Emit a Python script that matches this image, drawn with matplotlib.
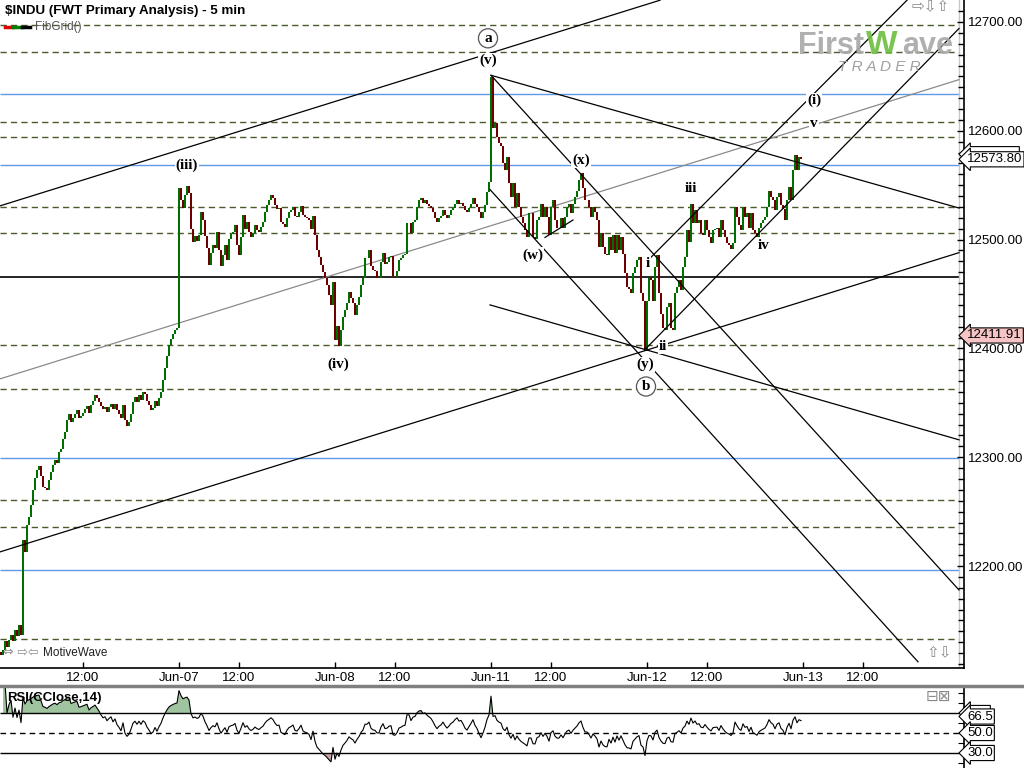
import numpy as np
import pandas as pd
import matplotlib
matplotlib.use("Agg")
import matplotlib.pyplot as plt
from matplotlib.transforms import blended_transform_factory
from matplotlib.lines import Line2D

plt.rcParams['font.family'] = ['Liberation Sans', 'DejaVu Sans']

# ---------------- data: 5 min closes, one list per session ----------------
first_open = 12121
jun05 = [12118, 12123, 12131, 12126, 12132, 12137, 12131, 12141, 12136, 12146, 12137]
jun06 = [12224, 12213, 12238, 12245, 12256, 12270, 12281, 12288, 12292, 12283,
         12273, 12272, 12270, 12279, 12286, 12293, 12297, 12295, 12305, 12308,
         12317, 12323, 12334, 12340, 12332, 12336, 12340, 12343, 12336, 12338,
         12341, 12344, 12347, 12341, 12348, 12352, 12357, 12354, 12351, 12347,
         12344, 12346, 12342, 12346, 12349, 12344, 12349, 12343, 12340, 12336,
         12348, 12334, 12329, 12332, 12340, 12351, 12355, 12351, 12357, 12353,
         12360, 12358, 12352, 12348, 12343, 12345, 12352, 12347, 12354, 12360,
         12371, 12382, 12393, 12403, 12409, 12413, 12417, 12419]
jun07 = [12547, 12536, 12529, 12541, 12549, 12543, 12510, 12498, 12503, 12499,
         12504, 12525, 12518, 12503, 12492, 12477, 12488, 12495, 12492, 12507,
         12490, 12476, 12486, 12495, 12481, 12501, 12505, 12507, 12513, 12495,
         12486, 12502, 12523, 12510, 12516, 12507, 12502, 12506, 12513, 12509,
         12507, 12512, 12516, 12525, 12532, 12536, 12541, 12538, 12532, 12528,
         12529, 12516, 12514, 12512, 12520, 12525, 12527, 12530, 12522, 12521,
         12525, 12531, 12523, 12521, 12520, 12518, 12510, 12522, 12504, 12490,
         12484, 12477, 12470, 12465, 12458, 12449, 12440, 12461]
jun08 = [12408, 12421, 12402, 12417, 12429, 12435, 12442, 12452, 12446, 12442,
         12431, 12440, 12447, 12458, 12465, 12483, 12483, 12490, 12476, 12472,
         12471, 12465, 12465, 12479, 12488, 12478, 12479, 12484, 12485, 12467,
         12466, 12471, 12481, 12483, 12486, 12487, 12515, 12515, 12506, 12516,
         12518, 12530, 12536, 12538, 12534, 12536, 12533, 12531, 12529, 12525,
         12520, 12516, 12520, 12522, 12527, 12523, 12520, 12523, 12527, 12529,
         12533, 12536, 12533, 12534, 12531, 12527, 12525, 12529, 12533, 12538,
         12533, 12530, 12525, 12520, 12525, 12532, 12544, 12553]
jun11 = [12649, 12603, 12607, 12594, 12589, 12586, 12570, 12564, 12576, 12552,
         12539, 12552, 12530, 12543, 12530, 12521, 12515, 12509, 12502, 12524,
         12524, 12502, 12501, 12518, 12521, 12533, 12521, 12530, 12521, 12504,
         12530, 12536, 12518, 12511, 12511, 12520, 12511, 12521, 12530, 12533,
         12524, 12533, 12539, 12545, 12555, 12561, 12547, 12536, 12536, 12530,
         12521, 12530, 12525, 12518, 12493, 12506, 12493, 12487, 12486, 12502,
         12490, 12504, 12488, 12504, 12490, 12502, 12487, 12469, 12456, 12455,
         12451, 12469, 12475, 12481, 12484, 12451, 12444, 12398]
jun12 = [12444, 12465, 12463, 12444, 12475, 12486, 12451, 12432, 12419, 12417,
         12438, 12442, 12419, 12417, 12451, 12456, 12463, 12454, 12475, 12484,
         12509, 12498, 12533, 12515, 12527, 12515, 12518, 12506, 12504, 12518,
         12509, 12502, 12497, 12509, 12510, 12511, 12502, 12518, 12509, 12502,
         12497, 12495, 12491, 12497, 12530, 12521, 12513, 12509, 12530, 12521,
         12524, 12511, 12524, 12509, 12506, 12502, 12511, 12515, 12518, 12521,
         12530, 12545, 12539, 12536, 12527, 12539, 12543, 12532, 12528, 12518,
         12536, 12548, 12536, 12564, 12578, 12564, 12576, 12573.8]

tick_pos = [41, 89, 119, 167, 197, 245, 275, 323, 353, 401, 431]
tick_lab = ['12:00', 'Jun-07', '12:00', 'Jun-08', '12:00', 'Jun-11',
            '12:00', 'Jun-12', '12:00', 'Jun-13', '12:00']

# FibGrid levels
fib_dashed = [12697, 12672, 12608, 12594, 12530, 12506, 12403, 12363, 12261, 12236, 12133]
fib_blue = [12634, 12569, 12299, 12196]
fib_black = [12466]

# trend lines (bar index, price)
trend_lines = [((-0.5, 12531), (329.5, 12720)),
               ((-0.5, 12213), (479, 12488)),
               ((245, 12651), (479, 12529)),
               ((245, 12651), (479, 12178)),
               ((244.5, 12546), (458.5, 12112)),
               ((244.5, 12440), (479, 12316)),
               ((272, 12502), (286, 12518)),
               ((323.5, 12481), (453, 12720)),
               ((322, 12399), (479, 12694))]
gray_line = ((-0.5, 12372), (479, 12647))

wave_labels = [('(iii)', 93, 12568), ('(iv)', 168.5, 12385), ('(v)', 243.5, 12665),
               ('(w)', 266, 12486), ('(x)', 290, 12573), ('i', 323.5, 12478),
               ('ii', 331, 12402), ('(y)', 322, 12385), ('iii', 345, 12547),
               ('iv', 381.5, 12495), ('v', 406.5, 12607), ('(i)', 406.5, 12628)]
circled = [('a', 243.5, 12685), ('b', 322.5, 12365)]

price_tags = [('12573.80', 12573.8, 'white'), ('12411.91', 12411.9, '#f6c4c4')]
hidden_price_tag = 12578.5
rsi_tags = [('66.5', 66.5), ('50.0', 50.0), ('30.0', 30.0)]
hidden_rsi_tag = 70.0

# ---------------- figure ----------------
W, H = 1024, 768
fig = plt.figure(figsize=(W / 100, H / 100), dpi=100)


def frac(l, t, r, b):
    return [l / W, 1 - b / H, (r - l) / W, (b - t) / H]


ax = fig.add_axes(frac(0, 0, 964, 668))
rx = fig.add_axes(frac(0, 687, 964, 768))

closes = np.array(jun05 + jun06 + jun07 + jun08 + jun11 + jun12, dtype=float)
opens = np.r_[first_open, closes[:-1]]
idx = np.arange(len(closes))
up = closes >= opens

# fib grid
ax.hlines(fib_dashed, -0.5, 479, colors='#4b5a2a', lw=1.0, linestyles=(0, (4.5, 3)), zorder=1)
ax.hlines(fib_blue, -0.5, 479, colors='#5f9ae6', lw=1.0, zorder=1)
ax.hlines(fib_black, -0.5, 479, colors='black', lw=1.2, zorder=1)

# bars
ax.vlines(idx[up], opens[up], closes[up], color='#006e00', lw=1.3, zorder=3, antialiased=False)
ax.vlines(idx[~up], closes[~up], opens[~up], color='#6e0000', lw=1.3, zorder=3, antialiased=False)

# trend lines
for (x0, y0), (x1, y1) in trend_lines:
    ax.plot([x0, x1], [y0, y1], color='black', lw=0.9, zorder=4)
ax.plot([gray_line[0][0], gray_line[1][0]], [gray_line[0][1], gray_line[1][1]],
        color='#8a8a8a', lw=0.9, zorder=2)

ax.axvline(479, color='#c8c8c8', lw=1, zorder=1)

# wave labels
for t, xi, yp in wave_labels:
    ax.text(xi, yp, t, family='Liberation Serif', fontsize=11, fontweight='bold',
            ha='center', va='center', zorder=6,
            bbox=dict(boxstyle='square,pad=0.05', fc='white', ec='none'))
for t, xi, yp in circled:
    ax.text(xi, yp, t, family='Liberation Serif', fontsize=11, fontweight='bold',
            ha='center', va='center', zorder=6,
            bbox=dict(boxstyle='circle,pad=0.2', fc='white', ec='#555555', lw=0.9))

ax.set_xlim(-0.5, 481.5)
ax.set_ylim(12106.3, 12720.2)
for s in ['top', 'left']:
    ax.spines[s].set_visible(False)
ax.spines['right'].set_linewidth(1.2)
ax.spines['bottom'].set_linewidth(1.2)

ax.yaxis.tick_right()
ax.set_yticks(np.arange(12200, 12701, 100))
ax.set_yticklabels([f'{v:.2f}' for v in np.arange(12200, 12701, 100)])
ax.set_yticks(np.arange(12110, 12720, 10), minor=True)
ax.tick_params(axis='y', which='major', direction='in', length=5, width=1, pad=3, labelsize=9.5)
ax.tick_params(axis='y', which='minor', direction='in', length=4, width=1)
ax.set_xticks(tick_pos)
ax.set_xticklabels(tick_lab)
ax.tick_params(axis='x', direction='in', length=4, width=1, pad=3, labelsize=9.5)

# price tags (the one behind the last price shows only its edge)
tr = blended_transform_factory(fig.transFigure, ax.transData)
ax.text(967 / W, hidden_price_tag, ' ' * 14, transform=tr, fontsize=9.5, ha='left',
        va='center', zorder=9, bbox=dict(boxstyle='larrow,pad=0.12', fc='white', ec='black', lw=0.8))
for t, yp, fc in price_tags:
    ax.text(967 / W, yp, t, transform=tr, fontsize=9.5, ha='left', va='center', zorder=10,
            bbox=dict(boxstyle='larrow,pad=0.12', fc=fc, ec='black', lw=0.8))

# ---------------- RSI ----------------
chg = np.diff(closes)
gain = pd.Series(np.where(chg > 0, chg, 0.0))
loss = pd.Series(np.where(chg < 0, -chg, 0.0))
ag = gain.ewm(alpha=1 / 14, adjust=True).mean()
al = loss.ewm(alpha=1 / 14, adjust=True).mean()
rsi = (100 - 100 / (1 + ag / al)).to_numpy()
rsi_x = idx[1:]

rx.fill_between(rsi_x, rsi, 70, where=rsi > 70, interpolate=True, color='#9fc49f', lw=0)
rx.fill_between(rsi_x, rsi, 30, where=rsi < 30, interpolate=True, color='#c9a3a3', lw=0)
rx.hlines([70, 30], -0.5, 479, colors='black', lw=1.0)
rx.hlines([50], -0.5, 479, colors='black', lw=1.0, linestyles=(0, (4, 3)))
rx.plot(rsi_x, rsi, color='black', lw=0.8)
rx.set_xlim(-0.5, 481.5)
rx.set_ylim(15, 96)
rx.set_xticks([])
rx.yaxis.tick_right()
rx.set_yticks(np.arange(20, 95, 10))
rx.set_yticklabels([])
rx.tick_params(axis='y', direction='in', length=4)
for s in ['top', 'left', 'bottom']:
    rx.spines[s].set_visible(False)
rx.spines['right'].set_linewidth(1.2)
trr = blended_transform_factory(fig.transFigure, rx.transData)
rx.text(967 / W, hidden_rsi_tag, ' ' * 6, transform=trr, fontsize=9.5, ha='left', va='center',
        zorder=9, bbox=dict(boxstyle='larrow,pad=0.12', fc='white', ec='black', lw=0.8))
for t, yv in rsi_tags:
    rx.text(967 / W, yv, t, transform=trr, fontsize=9.5, ha='left', va='center', zorder=10,
            bbox=dict(boxstyle='larrow,pad=0.12', fc='white', ec='black', lw=0.8))
rx.text(7 / 964, 0.87, 'RSI(CClose,14)', transform=rx.transAxes, fontsize=9.5,
        fontweight='bold', ha='left', va='center')

# ---------------- decorations ----------------
fig.add_artist(Line2D([0, 1], [1 - 686 / H, 1 - 686 / H], color='#808080', lw=2.5))


def ftext(x, y, s, **kw):
    fig.text(x / W, 1 - y / H, s, **kw)


ftext(5, 11, '$INDU (FWT Primary Analysis) - 5 min', fontsize=9.6, fontweight='bold', va='center')
for x0, x1, c in [(5, 13, '#e00000'), (13, 22, '#008000'), (22, 30, 'black')]:
    fig.add_artist(Line2D([x0 / W, x1 / W], [1 - 27 / H] * 2, color=c, lw=2.5))
ftext(35, 27, 'FibGrid()', fontsize=8.5, color='#555555', va='center')
icon_font = 'DejaVu Sans'
ftext(3, 653, '⇔ ⇨⇦', family=icon_font, fontsize=9, color='#888888', va='center')
ftext(43, 653, 'MotiveWave', fontsize=8.5, color='#222222', va='center')
ftext(912, 7, '⇨⇩⇧', family=icon_font, fontsize=11, color='#888888', va='center')
ftext(926, 653, '⇧⇩', family=icon_font, fontsize=11, color='#888888', va='center')
ftext(926, 696, '⊟⊠', family=icon_font, fontsize=11, color='#888888', va='center')

# logo
ftext(798, 46, 'First', fontsize=22, fontweight='bold', color='#a8a8a8', va='center', alpha=0.9)
ftext(866, 46, 'W', fontsize=24, fontweight='bold', color='#6cbf3f', va='center', alpha=0.9)
ftext(902, 46, 'ave', fontsize=22, fontweight='bold', color='#a8a8a8', va='center', alpha=0.9)
ftext(838, 67, 'T R A D E R', fontsize=11, style='italic', color='#a0a0a0', va='center')

fig.savefig('out.png', dpi=100)
